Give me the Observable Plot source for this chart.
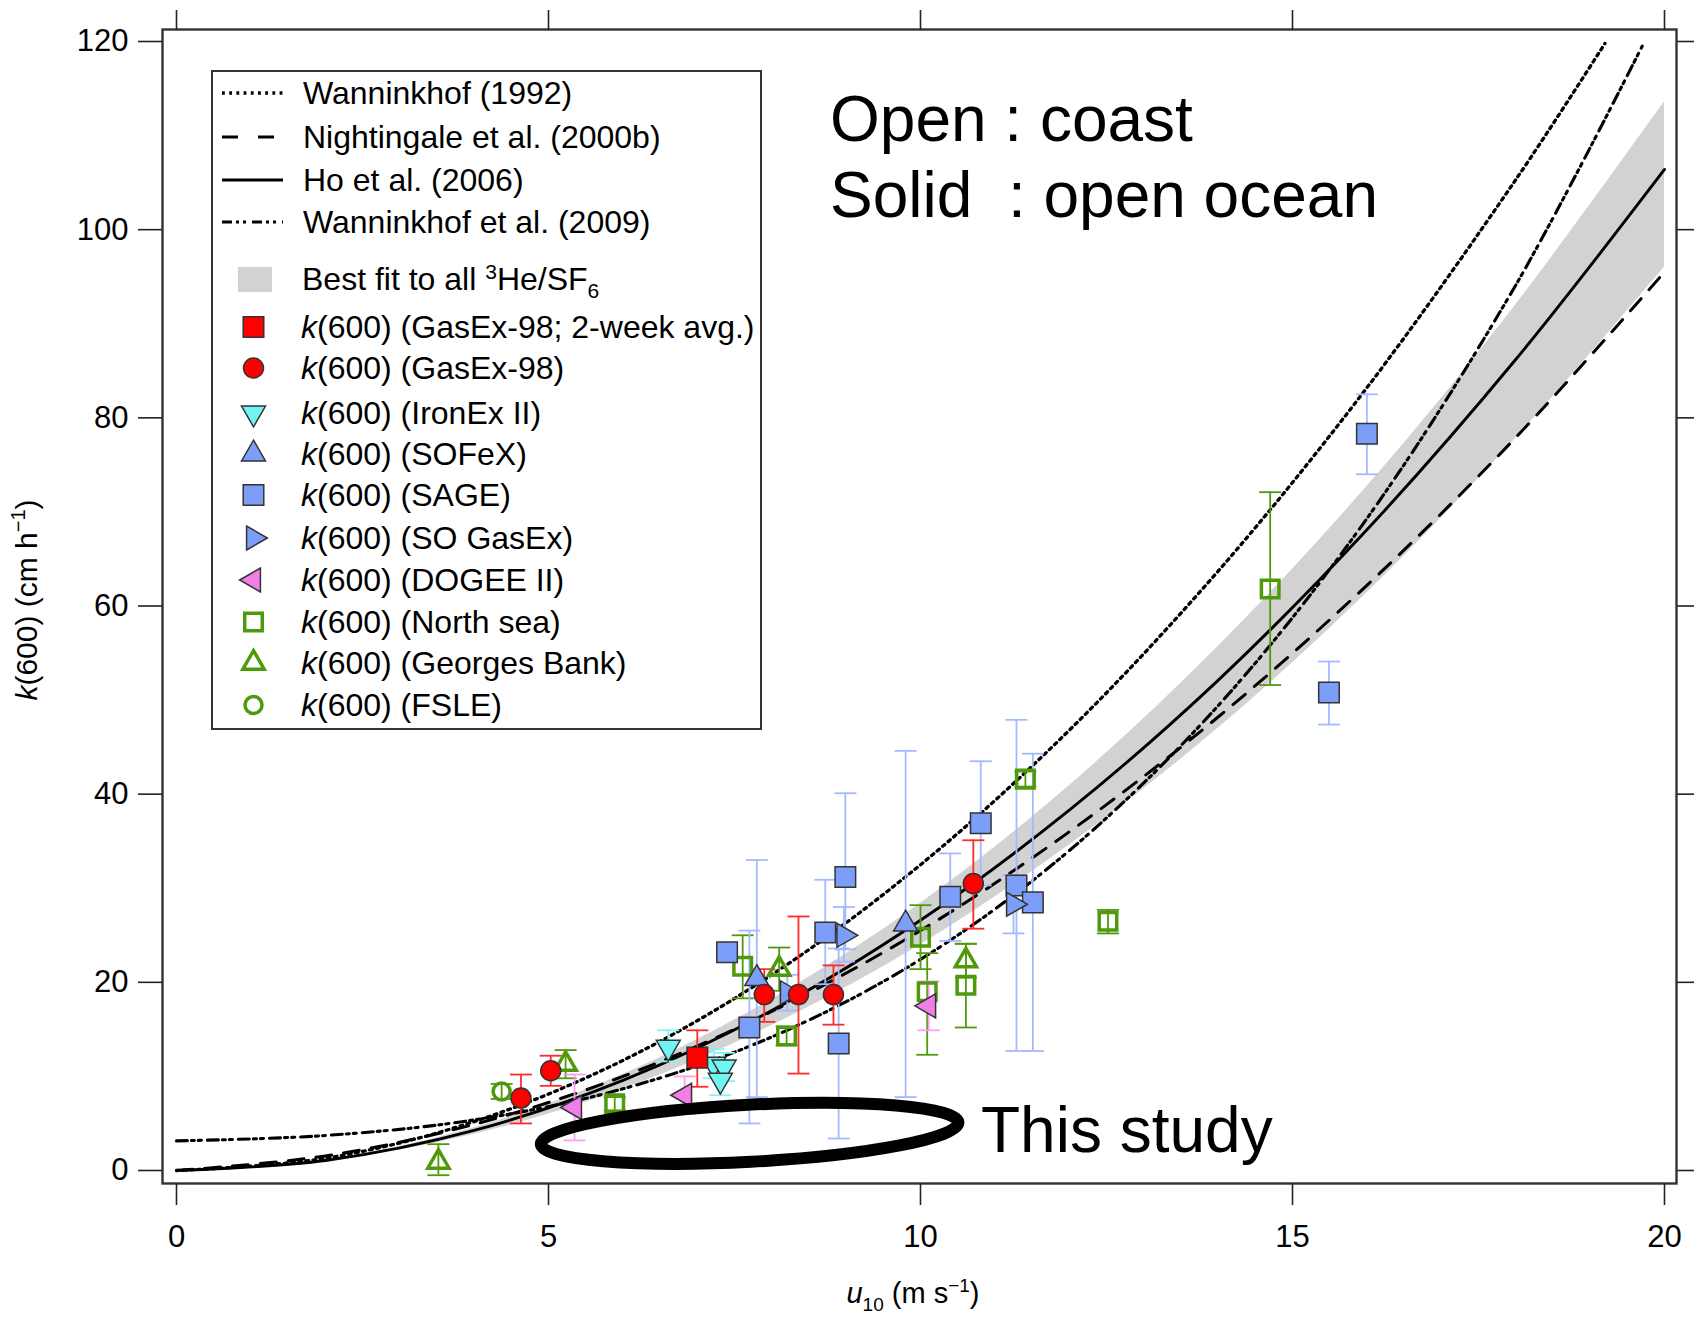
<!DOCTYPE html>
<html><head><meta charset="utf-8">
<script src="https://cdn.jsdelivr.net/npm/d3@7"></script>
<script src="https://cdn.jsdelivr.net/npm/@observablehq/plot@0.6"></script>
<style>
html,body{margin:0;padding:0;background:#fff;}
#chart svg{display:block;}
</style></head>
<body><div id="chart"></div>
<script>
// ---------------- DATA ----------------
const xTicks = [0, 5, 10, 15, 20];
const yTicks = [0, 20, 40, 60, 80, 100, 120];

// parameterisation curves: [u10, k600]
const wanninkhof1992 = [[0,0],[2,1.3],[4,5.2],[6,11.7],[8,20.8],[10,32.5],[12,46.8],[14,63.7],[16,83.2],[18,105.3],[19.2,119.8]];
const nightingale2000 = [[0,0],[2,1.55],[4,4.9],[6,10.0],[8,16.9],[10,25.5],[12,36.0],[14,48.2],[16,62.2],[18,77.9],[20,95.5]];
const ho2006 = [[0,0],[2,1.06],[4,4.26],[6,9.58],[8,17.0],[10,26.6],[12,38.3],[14,52.1],[16,68.1],[18,86.2],[20,106.4]];
const wanninkhof2009 = [[0,3.15],[2,3.72],[4,5.38],[6,8.68],[8,14.19],[10,22.44],[12,34.0],[14,49.4],[16,69.3],[18,94.1],[19.7,119.5]];
// best-fit band: [u10, lower, upper]
const bestFitBand = [[0,0,0],[2,0.96,1.14],[4,3.84,4.54],[6,8.64,10.2],[8,15.4,18.2],[10,24.0,28.4],[12,34.6,40.9],[14,47.0,55.7],[16,61.4,72.7],[18,77.8,92.0],[20,96.0,113.6]];

// observations: [u10, k600, low, high]
const gasExAvg = [[7.00,12.0,8.9,14.9]];
const gasEx = [[4.63,7.7,5.0,10.2],[5.03,10.6,9.0,12.2],[7.90,18.7,15.8,21.4],[8.36,18.7,10.3,27.0],[8.83,18.7,15.5,21.8],[10.71,30.5,25.7,35.1]];
const ironEx = [[6.61,13.1,11.6,14.9],[7.22,11.3,9.8,12.9],[7.36,11.0,9.5,12.5],[7.31,9.6,8.0,11.2]];
const sofex = [[7.80,20.4,7.8,33.0],[9.80,26.2,7.8,44.6]];
const sage = [[7.40,23.2,23.2,23.2],[7.70,15.2,5.0,25.5],[8.72,25.3,19.8,30.9],[8.99,31.2,23.5,40.1],[8.90,13.5,3.4,23.6],[10.40,29.1,24.4,33.7],[10.81,36.9,30.3,43.5],[11.29,30.3,12.7,47.9],[11.51,28.5,12.7,44.3],[15.49,50.8,47.4,54.1],[16.00,78.3,74.0,82.5]];
const soGasEx = [[8.21,18.9,17.0,20.8],[8.97,25.0,22.2,28.0],[11.25,28.3,25.2,31.4]];
const dogee = [[5.35,6.7,3.2,10.2],[6.83,8.0,6.0,10.0],[10.11,17.5,14.9,20.1]];
const northSea = [[5.89,7.1,6.4,7.8],[7.61,21.7,18.3,25.0],[8.20,14.3,13.3,15.3],[10.00,24.8,21.4,28.2],[10.09,19.0,12.3,23.1],[10.61,19.7,15.2,24.1],[11.41,41.6,40.8,42.4],[12.52,26.5,25.2,27.7],[14.70,61.8,51.6,72.1]];
const georgesBank = [[3.52,0.9,-0.5,2.8],[5.23,11.3,9.8,12.8],[8.10,21.4,19.1,23.7],[10.61,22.3,20.5,24.1]];
const fsle = [[4.37,8.4,7.6,9.2]];

// texts
const curveLabels = ["Wanninkhof (1992)", "Nightingale et al. (2000b)", "Ho et al. (2006)", "Wanninkhof et al. (2009)"];
const obsLabels = ["GasEx-98; 2-week avg.", "GasEx-98", "IronEx II", "SOFeX", "SAGE", "SO GasEx", "DOGEE II", "North sea", "Georges Bank", "FSLE"];
const annotationTexts = ["Open : coast", "Solid  : open ocean", "This study"];
// "This study" oval: centre u, centre k, half-width (u), half-height (k)
const thisStudyOval = [7.71, 3.9, 2.81, 3.03];

// ---------------- STYLES ----------------
const FONT = '"Liberation Sans", Arial, Helvetica, sans-serif';
const cap = {draw(ctx, size) { const w = Math.sqrt(size); ctx.moveTo(-w/2, 0); ctx.lineTo(w/2, 0); }};
const BLUE = "#7d9ef8", BLUEBAR = "#a3baff";
const GREEN = "#4f9a0c";
const curveStyles = [
  {data: wanninkhof1992, dash: "2.8,4.4", legendDash: "2.8,4.4", w: 3.3},
  {data: nightingale2000, dash: "16,12", legendDash: "16,20", w: 3.0},
  {data: ho2006, dash: null, legendDash: null, w: 2.9},
  {data: wanninkhof2009, dash: "11,4,3,4,3,6", legendDash: "10,4,3,4,3,6", w: 3.1}
];
const obsStyles = [
  {data: gasExAvg, symbol: "square", r: 11.6, fill: "#ff0000", stroke: "#333", sw: 1.5, rot: 0, bar: "#ff2a2a"},
  {data: gasEx, symbol: "circle", r: 10, fill: "#ff0000", stroke: "#333", sw: 1.5, rot: 0, bar: "#ff2a2a"},
  {data: ironEx, symbol: "triangle", r: 8.9, fill: "#70f5f5", stroke: "#333", sw: 1.5, rot: 180, bar: "#80f4f4"},
  {data: sofex, symbol: "triangle", r: 8.9, fill: BLUE, stroke: "#333", sw: 1.5, rot: 0, bar: BLUEBAR},
  {data: sage, symbol: "square", r: 11.6, fill: BLUE, stroke: "#333", sw: 1.5, rot: 0, bar: BLUEBAR},
  {data: soGasEx, symbol: "triangle", r: 8.9, fill: BLUE, stroke: "#333", sw: 1.5, rot: 90, bar: BLUEBAR},
  {data: dogee, symbol: "triangle", r: 8.9, fill: "#f07ee6", stroke: "#333", sw: 1.5, rot: -90, bar: "#ff9cf0"},
  {data: northSea, symbol: "square", r: 9.9, fill: "none", stroke: GREEN, sw: 3.5, rot: 0, bar: GREEN},
  {data: georgesBank, symbol: "triangle", r: 7.9, fill: "none", stroke: GREEN, sw: 3.5, rot: 0, bar: GREEN},
  {data: fsle, symbol: "circle", r: 8.5, fill: "none", stroke: GREEN, sw: 3.5, rot: 0, bar: GREEN}
];
const drawOrder = [7, 8, 9, 4, 3, 5, 6, 2, 0, 1];

const rows = arr => arr.map(([u, k, lo, hi]) => ({u, k, lo, hi}));

// ---------------- MARKS ----------------
const marks = [];
marks.push(Plot.areaY(bestFitBand.map(([u, lo, hi]) => ({u, lo, hi})), {x: "u", y1: "lo", y2: "hi", fill: "#d2d2d2", curve: "catmull-rom"}));
for (const c of curveStyles) {
  marks.push(Plot.line(c.data, {x: d => d[0], y: d => d[1], stroke: "#000", strokeWidth: c.w, strokeDasharray: c.dash ?? undefined, curve: "catmull-rom"}));
}
for (const i of drawOrder) {
  const s = obsStyles[i], d = rows(s.data);
  marks.push(Plot.ruleX(d, {x: "u", y1: "lo", y2: "hi", stroke: s.bar, strokeWidth: 1.8}));
  marks.push(Plot.dot(d, {x: "u", y: "lo", symbol: cap, r: 12.4, fill: "none", stroke: s.bar, strokeWidth: 1.8}));
  marks.push(Plot.dot(d, {x: "u", y: "hi", symbol: cap, r: 12.4, fill: "none", stroke: s.bar, strokeWidth: 1.8}));
}
for (const i of drawOrder) {
  const s = obsStyles[i], d = rows(s.data);
  marks.push(Plot.dot(d, {x: "u", y: "k", symbol: s.symbol, r: s.r, fill: s.fill, stroke: s.stroke, strokeWidth: s.sw, rotate: s.rot, fillOpacity: 1}));
}
marks.push(Plot.frame({stroke: "#333", strokeWidth: 2.4}));
marks.push(Plot.axisX({anchor: "bottom", ticks: xTicks, tickSize: 22, tickPadding: 19, stroke: "#222", strokeWidth: 1.6, tickFormat: d => d, fill: "#000"}));
marks.push(Plot.axisX({anchor: "top", ticks: xTicks, tickSize: 20, stroke: "#222", strokeWidth: 1.6, tickFormat: () => ""}));
marks.push(Plot.axisY({anchor: "left", ticks: yTicks, tickSize: 24, tickPadding: 10, stroke: "#222", strokeWidth: 1.6, tickFormat: d => d, fill: "#000"}));
marks.push(Plot.axisY({anchor: "right", ticks: yTicks, tickSize: 18, stroke: "#222", strokeWidth: 1.6, tickFormat: () => ""}));

const svgEl = Plot.plot({
  width: 1694, height: 1317,
  marginLeft: 162, marginRight: 18, marginTop: 29, marginBottom: 134,
  x: {domain: [0, 20], range: [176, 1664], label: null},
  y: {domain: [0, 120], range: [1170, 41], label: null},
  style: {fontFamily: FONT, fontSize: "31px", background: "#fff", color: "#000"},
  marks
});
document.getElementById("chart").append(svgEl);

// ---------------- ANNOTATIONS, TITLES, LEGEND ----------------
const g = d3.select(svgEl);
const xs = svgEl.scale("x"), ys = svgEl.scale("y");

// "This study" oval
{
  const [cu, ck, du, dk] = thisStudyOval;
  const cx = xs.apply(cu), cy = ys.apply(ck);
  const rx = xs.apply(cu + du) - cx, ry = cy - ys.apply(ck + dk);
  g.append("ellipse").attr("cx", cx).attr("cy", cy).attr("rx", rx).attr("ry", ry)
    .attr("transform", `rotate(-3 ${cx} ${cy})`)
    .attr("fill", "none").attr("stroke", "#000").attr("stroke-width", 12);
}
const ann = g.append("g").attr("font-family", FONT).attr("font-size", 64).attr("fill", "#000").attr("text-anchor", "start");
ann.append("text").attr("x", 830).attr("y", 141).attr("xml:space", "preserve").style("white-space", "pre").text(annotationTexts[0]);
ann.append("text").attr("x", 830).attr("y", 217).attr("xml:space", "preserve").style("white-space", "pre").text(annotationTexts[1]);
ann.append("text").attr("x", 981).attr("y", 1152).text(annotationTexts[2]);

// axis titles
{
  const yt = g.append("text").attr("font-family", FONT).attr("font-size", 30).attr("text-anchor", "middle")
    .attr("transform", "translate(37,600) rotate(-90)");
  yt.append("tspan").attr("font-style", "italic").text("k");
  yt.append("tspan").text("(600) (cm h");
  yt.append("tspan").attr("font-size", 20).attr("dy", -12).text("\u22121");
  yt.append("tspan").attr("dy", 12).text(")");
  const xt = g.append("text").attr("font-family", FONT).attr("font-size", 29).attr("text-anchor", "middle")
    .attr("x", 913).attr("y", 1303);
  xt.append("tspan").attr("font-style", "italic").text("u");
  xt.append("tspan").attr("font-size", 19).attr("dy", 8).text("10");
  xt.append("tspan").attr("dy", -8).text(" (m s");
  xt.append("tspan").attr("font-size", 19).attr("dy", -11).text("\u22121");
  xt.append("tspan").attr("dy", 11).text(")");
}

// legend
{
  const L = g.append("g").attr("font-family", FONT).attr("font-size", 32).attr("text-anchor", "start").attr("fill", "#000");
  L.append("rect").attr("x", 212).attr("y", 71).attr("width", 549).attr("height", 658)
    .attr("fill", "#fff").attr("stroke", "#333").attr("stroke-width", 2);
  const lineRows = [93, 137, 180, 222];
  curveStyles.forEach((c, i) => {
    L.append("line").attr("x1", 222).attr("x2", 283).attr("y1", lineRows[i]).attr("y2", lineRows[i])
      .attr("stroke", "#000").attr("stroke-width", c.w).attr("stroke-dasharray", c.legendDash ?? null);
    L.append("text").attr("x", 303).attr("y", lineRows[i] + 11).text(curveLabels[i]);
  });
  L.append("rect").attr("x", 238).attr("y", 267).attr("width", 34).attr("height", 25).attr("fill", "#d2d2d2");
  const bf = L.append("text").attr("x", 302).attr("y", 290);
  bf.append("tspan").text("Best fit to all ");
  bf.append("tspan").attr("font-size", 21).attr("dy", -11).text("3");
  bf.append("tspan").attr("dy", 11).text("He/SF");
  bf.append("tspan").attr("font-size", 21).attr("dy", 8).text("6");
  const symRows = [327, 368, 413, 454, 495, 538, 580, 622, 663, 705];
  const d3sym = {square: d3.symbolSquare, circle: d3.symbolCircle, triangle: d3.symbolTriangle};
  obsStyles.forEach((s, i) => {
    const y = symRows[i];
    L.append("path").attr("d", d3.symbol(d3sym[s.symbol], Math.PI * s.r * s.r)())
      .attr("transform", `translate(253.5,${y}) rotate(${s.rot})`)
      .attr("fill", s.fill).attr("stroke", s.stroke).attr("stroke-width", s.sw);
    const t = L.append("text").attr("x", 301).attr("y", y + 11);
    t.append("tspan").attr("font-style", "italic").text("k");
    t.append("tspan").text(`(600) (${obsLabels[i]})`);
  });
}
</script>
</body></html>
